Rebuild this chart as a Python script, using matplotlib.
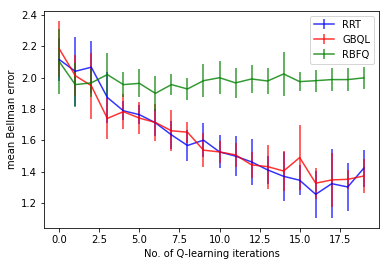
import numpy as np
import matplotlib
matplotlib.use('Agg')
import matplotlib.pyplot as plt

# iterations
iters = np.arange(20)

# mean Bellman error per method
rrt_mean = [2.116, 2.041, 2.067, 1.874, 1.789, 1.764, 1.712, 1.635, 1.567, 1.601,
            1.526, 1.499, 1.462, 1.411, 1.370, 1.345, 1.255, 1.323, 1.302, 1.422]
rrt_err = [0.14, 0.22, 0.165, 0.165, 0.06, 0.06, 0.085, 0.09, 0.10, 0.107,
           0.105, 0.13, 0.145, 0.09, 0.155, 0.095, 0.15, 0.22, 0.155, 0.117]

gbql_mean = [2.185, 2.013, 1.949, 1.740, 1.783, 1.742, 1.714, 1.661, 1.652, 1.537,
             1.526, 1.507, 1.443, 1.432, 1.404, 1.490, 1.326, 1.347, 1.351, 1.372]
gbql_err = [0.18, 0.13, 0.21, 0.13, 0.11, 0.10, 0.12, 0.13, 0.066, 0.11,
            0.07, 0.075, 0.085, 0.14, 0.13, 0.21, 0.10, 0.17, 0.06, 0.11]

rbfq_mean = [2.103, 1.956, 1.967, 2.020, 1.956, 1.964, 1.900, 1.956, 1.928, 1.981,
             2.000, 1.967, 1.992, 1.979, 2.024, 1.975, 1.981, 1.988, 1.988, 1.999]
rbfq_err = [0.21, 0.14, 0.09, 0.137, 0.08, 0.09, 0.11, 0.066, 0.07, 0.105,
            0.107, 0.094, 0.092, 0.08, 0.143, 0.062, 0.07, 0.075, 0.075, 0.07]

fig = plt.figure(figsize=(389 / 72, 266 / 72), dpi=72)
ax = fig.add_axes([44 / 389, 38 / 266, 335 / 389, 217.3 / 266])

ax.errorbar(iters, rrt_mean, yerr=rrt_err, color='blue', alpha=0.8, lw=1.5, label='RRT')
ax.errorbar(iters, gbql_mean, yerr=gbql_err, color='red', alpha=0.8, lw=1.5, label='GBQL')
ax.errorbar(iters, rbfq_mean, yerr=rbfq_err, color='green', alpha=0.8, lw=1.5, label='RBFQ')

ax.set_xlabel('No. of Q-learning iterations')
ax.set_ylabel('mean Bellman error')
ax.legend(loc='upper right')

fig.savefig('out.png', dpi=72)
